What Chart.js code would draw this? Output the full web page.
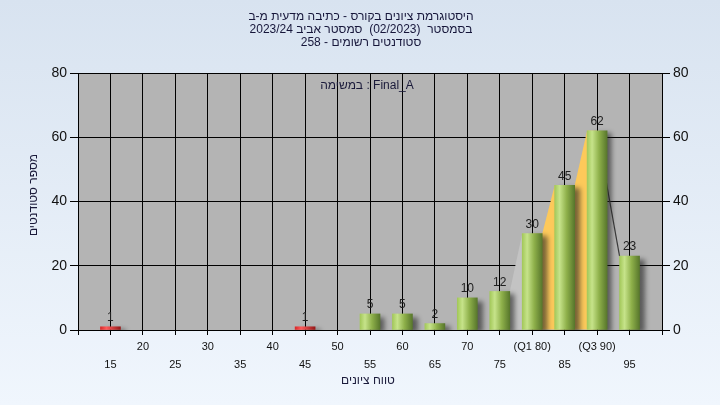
<!DOCTYPE html>
<html>
<head>
<meta charset="utf-8">
<script src="https://cdn.jsdelivr.net/npm/chart.js@4/dist/chart.umd.min.js"></script>
<style>
  body { margin: 0; background: linear-gradient(#d8e3f0, #f0f6fd); }
  #wrap { width: 720px; height: 405px; }
</style>
</head>
<body>
<div id="wrap"><canvas id="histogram"></canvas></div>
<script>
const grades = [15, 20, 25, 30, 35, 40, 45, 50, 55, 60, 65, 70, 75, 80, 85, 90, 95];
const counts = [1, 0, 0, 0, 0, 0, 1, 0, 5, 5, 2, 10, 12, 30, 45, 62, 23];
const q1 = 80;
const q3 = 90;
const failBelow = 55;
const quartileLabels = { 80: '(Q1 80)', 90: '(Q3 90)' };

const titleLines = [
    'היסטוגרמת ציונים בקורס - כתיבה מדעית מ-ב',
    'בסמסטר  (02/2023)  סמסטר אביב 2023/24',
    'סטודנטים רשומים - 258'
];
const taskLabel = 'במשימה : Final_A';
const xTitle = 'טווח ציונים';
const yTitle = 'מספר סטודנטים';

const FONT = '"Liberation Sans", "DejaVu Sans", sans-serif';

const points = grades.map((g, i) => ({ x: g, y: counts[i] })).filter(p => p.y > 0);

function barGradient(context) {
    const chart = context.chart;
    if (!chart.chartArea || !context.parsed) return '#9cc050';
    const px = chart.scales.x.getPixelForValue(context.parsed.x);
    const grad = chart.ctx.createLinearGradient(px - 10, 0, px + 10, 0);
    if (context.parsed.x < failBelow) {
        grad.addColorStop(0, '#d82a2a');
        grad.addColorStop(0.3, '#ff5a5a');
        grad.addColorStop(1, '#961818');
    } else {
        grad.addColorStop(0, '#a3c85a');
        grad.addColorStop(0.25, '#c6e38a');
        grad.addColorStop(0.6, '#8eb04a');
        grad.addColorStop(1, '#58772c');
    }
    return grad;
}

const plotBackground = {
    id: 'plotBackground',
    beforeDraw(chart) {
        const { ctx, chartArea: a } = chart;
        ctx.save();
        ctx.fillStyle = '#b4b4b4';
        ctx.fillRect(a.left, a.top, a.right - a.left, a.bottom - a.top);
        ctx.restore();
    }
};

// frequency polygon between bar tops, yellow inside the Q1..Q3 range
const quartileArea = {
    id: 'quartileArea',
    beforeDatasetsDraw(chart) {
        const ctx = chart.ctx;
        const meta = chart.getDatasetMeta(0);
        const el = g => meta.data[points.findIndex(p => p.x === g)];
        const step = grades[1] - grades[0];

        function piece(a, b, color) {
            ctx.beginPath();
            ctx.moveTo(a.x, a.base);
            ctx.lineTo(a.x, a.y);
            ctx.lineTo(a.x + a.width / 2, a.y);
            ctx.lineTo(b.x - b.width / 2, b.y);
            ctx.lineTo(b.x, b.y);
            ctx.lineTo(b.x, b.base);
            ctx.closePath();
            ctx.fillStyle = color;
            ctx.fill();
        }

        ctx.save();
        piece(el(q1 - step), el(q1), '#c3c3c3');
        for (let g = q1; g < q3; g += step) {
            piece(el(g), el(g + step), '#fdc95a');
        }
        const a = el(q3), b = el(q3 + step);
        ctx.beginPath();
        ctx.moveTo(a.x, a.y);
        ctx.lineTo(b.x - b.width / 2, b.y);
        ctx.strokeStyle = '#3a3a3a';
        ctx.lineWidth = 1.2;
        ctx.stroke();
        ctx.restore();
    },
    beforeDatasetDraw(chart, args) {
        if (args.index !== 0) return;
        const ctx = chart.ctx;
        ctx.save();
        ctx.shadowColor = 'rgba(30,30,30,0.6)';
        ctx.shadowBlur = 5;
        ctx.shadowOffsetX = 5;
        ctx.shadowOffsetY = 3;
    },
    afterDatasetDraw(chart, args) {
        if (args.index !== 0) return;
        chart.ctx.restore();
    }
};

const texts = {
    id: 'texts',
    afterDraw(chart) {
        const ctx = chart.ctx;
        const meta = chart.getDatasetMeta(0);
        ctx.save();
        ctx.textAlign = 'center';

        // values over the bars
        ctx.font = '12px ' + FONT;
        ctx.fillStyle = '#202020';
        ctx.textBaseline = 'bottom';
        meta.data.forEach((bar, i) => {
            ctx.fillText(String(points[i].y), bar.x, bar.y - 3);
        });

        ctx.textBaseline = 'middle';
        ctx.fillStyle = '#1a1a3a';
        ctx.fillText(taskLabel, 367, 86);

        ctx.direction = 'rtl';
        ctx.fillStyle = '#16163a';
        titleLines.forEach((line, i) => {
            ctx.fillText(line, 361, 17 + i * 13);
        });
        ctx.fillStyle = '#1a1a3a';
        ctx.fillText(xTitle, 368, 381);

        ctx.translate(34, 195);
        ctx.rotate(-Math.PI / 2);
        ctx.fillText(yTitle, 0, 0);
        ctx.restore();
    }
};

new Chart(document.getElementById('histogram'), {
    type: 'bar',
    data: {
        datasets: [{
            data: points,
            backgroundColor: barGradient,
            borderWidth: 0,
            barThickness: 20
        }]
    },
    options: {
        responsive: true,
        maintainAspectRatio: false,
        animation: false,
        layout: { padding: { top: 73, left: 0, right: 0, bottom: 0 } },
        plugins: {
            legend: { display: false },
            tooltip: { enabled: false }
        },
        scales: {
            x: {
                type: 'linear',
                min: 10,
                max: 100,
                offset: false,
                afterFit: (scale) => { scale.height = 75; },
                grid: { offset: false, color: '#000', lineWidth: 1, tickLength: 5, tickColor: '#000' },
                border: { color: '#000', width: 1 },
                ticks: {
                    stepSize: 5,
                    autoSkip: false,
                    maxRotation: 0,
                    padding: 3,
                    color: '#111',
                    font: { family: FONT, size: 11, lineHeight: 1.64 },
                    callback: (v) => {
                        if (v <= 10 || v >= 100) return '';
                        const label = quartileLabels[v] || String(v);
                        return (v % 10 === 5) ? ['', label] : [label];
                    }
                }
            },
            y: {
                min: 0,
                max: 80,
                afterFit: (scale) => { scale.width = 78; },
                grid: { color: '#000', lineWidth: 1, tickLength: 8, tickColor: '#000' },
                border: { color: '#000', width: 1 },
                ticks: {
                    stepSize: 20,
                    padding: 3,
                    color: '#111',
                    font: { family: FONT, size: 14 }
                }
            },
            y2: {
                position: 'right',
                min: 0,
                max: 80,
                afterFit: (scale) => { scale.width = 58; },
                grid: { drawOnChartArea: false, tickLength: 8, tickColor: '#000' },
                border: { color: '#000', width: 1 },
                ticks: {
                    stepSize: 20,
                    padding: 3,
                    color: '#111',
                    font: { family: FONT, size: 14 }
                }
            }
        }
    },
    plugins: [plotBackground, quartileArea, texts]
});
</script>
</body>
</html>
